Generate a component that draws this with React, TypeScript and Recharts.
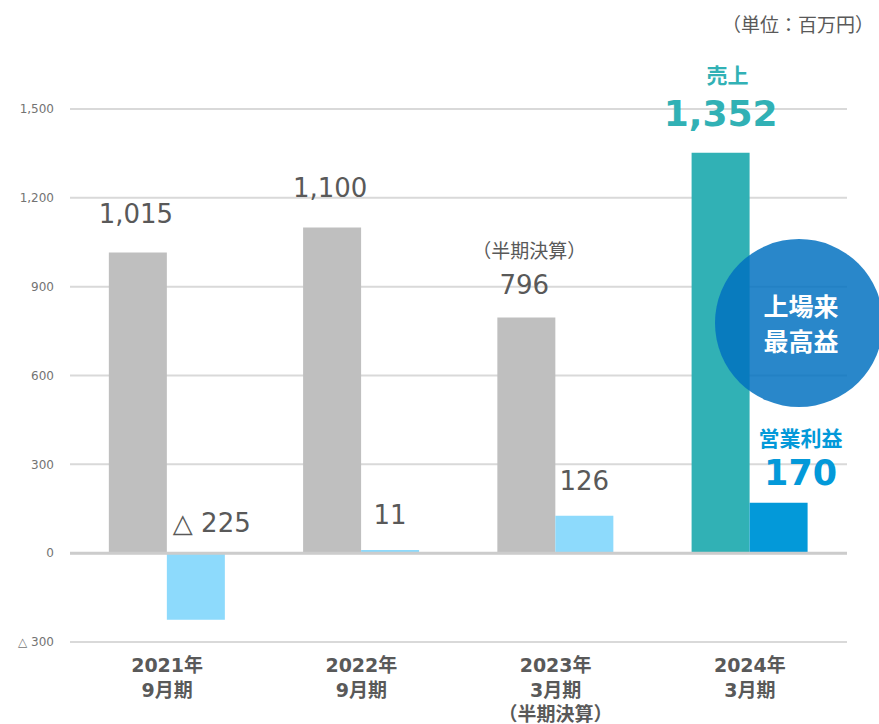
import React from 'react';
import {
  BarChart,
  Bar,
  XAxis,
  YAxis,
  CartesianGrid,
  ReferenceLine,
  LabelList,
  Cell,
} from 'recharts';

const periods = ['2021年9月期', '2022年9月期', '2023年3月期', '2024年3月期'];
const periodLines = [
  ['2021年', '9月期'],
  ['2022年', '9月期'],
  ['2023年', '3月期', '（半期決算）'],
  ['2024年', '3月期'],
];
const sales = [1015, 1100, 796, 1352];
const profit = [-225, 11, 126, 170];
const yTicks = [-300, 0, 300, 600, 900, 1200, 1500];

const salesColors = ['#bfbfbf', '#bfbfbf', '#bfbfbf', '#31b1b5'];
const profitColors = ['#8ddafc', '#8ddafc', '#8ddafc', '#0399d9'];

const data = periods.map((p, i) => ({ period: p, sales: sales[i], profit: profit[i] }));

const NUM_FONT = '"DejaVu Sans", "Noto Sans CJK JP", sans-serif';
const JP_FONT = '"Noto Sans CJK JP", "DejaVu Sans", sans-serif';
const TEXT_GRAY = '#595959';

const fmtNum = (v: number) => (v < 0 ? `△ ${Math.abs(v).toLocaleString('en-US')}` : v.toLocaleString('en-US'));

const SalesLabel = (props: any) => {
  const { x, y, width, height, index, value } = props;
  const cx = x + width / 2;
  const top = Math.min(y, y + height);
  if (index === 3) {
    return (
      <g>
        <text x={cx + 7} y={top - 79} textAnchor="middle" dominantBaseline="central" fill="#31b1b5" fontSize={21} fontWeight="bold" fontFamily={JP_FONT}>
          売上
        </text>
        <text x={cx} y={top - 39} textAnchor="middle" dominantBaseline="central" fill="#31b1b5" fontSize={36} fontWeight="bold" fontFamily={NUM_FONT}>
          {fmtNum(value)}
        </text>
      </g>
    );
  }
  return (
    <g>
      {index === 2 && (
        <text x={cx + 3} y={top - 68} textAnchor="middle" dominantBaseline="central" fill={TEXT_GRAY} fontSize={19} fontFamily={JP_FONT}>
          （半期決算）
        </text>
      )}
      <text x={cx - 2} y={top - (index === 2 ? 32 : 39)} textAnchor="middle" dominantBaseline="central" fill={TEXT_GRAY} fontSize={26} fontFamily={NUM_FONT}>
        {fmtNum(value)}
      </text>
    </g>
  );
};

const ProfitLabel = (props: any) => {
  const { x, y, width, height, index, value } = props;
  const cx = x + width / 2;
  const top = Math.min(y, y + height);
  if (index === 3) {
    return (
      <g>
        <text x={cx + 22} y={top - 66} textAnchor="middle" dominantBaseline="central" fill="#0399d9" fontSize={21} fontWeight="bold" fontFamily={JP_FONT}>
          営業利益
        </text>
        <text x={cx + 22} y={top - 30} textAnchor="middle" dominantBaseline="central" fill="#0399d9" fontSize={35} fontWeight="bold" fontFamily={NUM_FONT}>
          {fmtNum(value)}
        </text>
      </g>
    );
  }
  if (value < 0) {
    return (
      <text x={x + 6} y={top - 30} textAnchor="start" dominantBaseline="central" fill={TEXT_GRAY} fontSize={26} fontFamily={NUM_FONT}>
        {fmtNum(value)}
      </text>
    );
  }
  return (
    <text x={cx} y={top - 35} textAnchor="middle" dominantBaseline="central" fill={TEXT_GRAY} fontSize={26} fontFamily={NUM_FONT}>
      {fmtNum(value)}
    </text>
  );
};

const PeriodTick = (props: any) => {
  const { x, y, payload } = props;
  const lines = periodLines[periods.indexOf(payload.value)] || [payload.value];
  return (
    <g>
      {lines.map((line, i) => (
        <text
          key={line}
          x={x}
          y={y + 15 + i * 24.5}
          textAnchor="middle"
          dominantBaseline="central"
          fill={TEXT_GRAY}
          fontSize={19}
          fontWeight="bold"
          fontFamily={NUM_FONT}
        >
          {line}
        </text>
      ))}
    </g>
  );
};

export default function App() {
  return (
    <div style={{ position: 'relative', width: 879, height: 724, overflow: 'hidden', background: '#fff' }}>
      <style>{'body{margin:0;overflow:hidden;}'}</style>
      <div
        style={{
          position: 'absolute',
          right: 5,
          top: 10,
          fontFamily: JP_FONT,
          fontSize: 19,
          color: TEXT_GRAY,
          lineHeight: '28px',
        }}
      >
        （単位：百万円）
      </div>
      <BarChart
        width={879}
        height={724}
        data={data}
        margin={{ top: 109, right: 32, left: 0, bottom: 0 }}
        barCategoryGap="20%"
        barGap={0}
      >
        <CartesianGrid vertical={false} stroke="#d9d9d9" strokeWidth={2} />
        <XAxis
          dataKey="period"
          axisLine={false}
          tickLine={false}
          height={82}
          interval={0}
          tick={<PeriodTick />}
        />
        <YAxis
          width={70}
          domain={[-300, 1500]}
          ticks={yTicks}
          axisLine={false}
          tickLine={false}
          tickSize={0}
          tickMargin={16}
          tickFormatter={fmtNum}
          tick={{ fill: '#737373', fontSize: 12, fontFamily: NUM_FONT }}
        />
        <Bar dataKey="sales" isAnimationActive={false}>
          {data.map((d, i) => (
            <Cell key={d.period} fill={salesColors[i]} />
          ))}
          <LabelList dataKey="sales" content={<SalesLabel />} />
        </Bar>
        <Bar dataKey="profit" isAnimationActive={false}>
          {data.map((d, i) => (
            <Cell key={d.period} fill={profitColors[i]} />
          ))}
          <LabelList dataKey="profit" content={<ProfitLabel />} />
        </Bar>
        <ReferenceLine y={0} stroke="#cccccc" strokeWidth={3} />
      </BarChart>
      <div
        style={{
          position: 'absolute',
          left: 715,
          top: 239,
          width: 168,
          height: 168,
          borderRadius: '50%',
          background: 'rgba(0, 112, 192, 0.84)',
          display: 'flex',
          flexDirection: 'column',
          alignItems: 'center',
          justifyContent: 'center',
          color: '#fff',
          fontFamily: JP_FONT,
          fontWeight: 'bold',
          fontSize: 25,
          lineHeight: '35px',
        }}
      >
        <div style={{ marginLeft: 4 }}>上場来</div>
        <div style={{ marginLeft: 4 }}>最高益</div>
      </div>
    </div>
  );
}
